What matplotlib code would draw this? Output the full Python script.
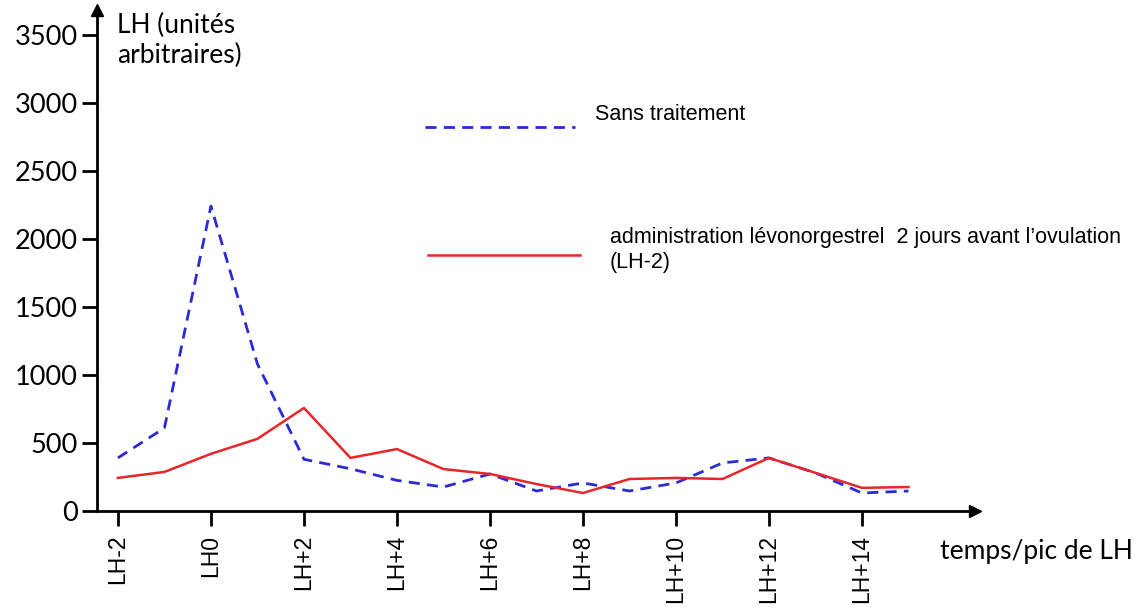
import matplotlib.pyplot as plt
import numpy as np

# jours par rapport au pic de LH
jours = list(range(-2, 16))
sans_traitement = [390, 610, 2240, 1080, 380, 310, 225, 176, 272, 147, 206, 147, 206, 353, 390, 280, 132, 147]
levonorgestrel = [243, 287, 420, 530, 757, 390, 455, 308, 272, 198, 132, 235, 243, 235, 390, 280, 170, 176]
y_ticks = [0, 500, 1000, 1500, 2000, 2500, 3000, 3500]
x_ticks = [-2, 0, 2, 4, 6, 8, 10, 12, 14]
x_labels = ["LH-2", "LH0", "LH+2", "LH+4", "LH+6", "LH+8", "LH+10", "LH+12", "LH+14"]

W, H = 1146, 613
fig = plt.figure(figsize=(W / 100, H / 100), dpi=100)
# axes placed in pixels: left spine x=97, arrow tip x=975, bottom y=511, top y=10
ax = fig.add_axes([97 / W, (H - 511) / H, (975 - 97) / W, (511 - 10) / H])
ax.set_xlim(-2.45, 16.43)
ax.set_ylim(0, 3680)

blue = "#2b2bd6"
red = "#e8262a"
ax.plot(jours, sans_traitement, color=blue, lw=2.0, dashes=(4, 2.6))
ax.plot(jours, levonorgestrel, color=red, lw=1.8)

for s in ["top", "right"]:
    ax.spines[s].set_visible(False)
for s in ["left", "bottom"]:
    ax.spines[s].set_linewidth(2)
    ax.spines[s].set_color("black")

# arrows at the end of each axis
ax.plot(1, 0, ">", color="black", ms=9, transform=ax.transAxes, clip_on=False)
ax.plot(0, 1, "^", color="black", ms=9, transform=ax.transAxes, clip_on=False)

ax.set_yticks(y_ticks)
ax.set_yticklabels([str(v) for v in y_ticks], fontfamily="Lato", fontsize=19.5)
ax.set_xticks(x_ticks)
ax.set_xticklabels(x_labels, rotation=90, fontfamily="Liberation Sans", fontsize=16.5)
ax.tick_params(axis="both", length=11, width=2, direction="out", pad=3)
ax.tick_params(axis="x", pad=6)

ax.text(0.023, 0.995, "LH (unités\narbitraires)", transform=ax.transAxes,
        fontfamily="Lato", fontsize=19, va="top", ha="left", linespacing=1.25)
fig.text(940 / W, 1 - 551 / H, "temps/pic de LH", fontfamily="Lato", fontsize=19,
         va="center", ha="left")

# legend drawn by hand
fig.add_artist(plt.Line2D([425 / W, 575 / W], [1 - 127 / H] * 2, color=blue, lw=2.0,
                          dashes=(4, 2.6)))
fig.text(595 / W, 1 - 115 / H, "Sans traitement", fontfamily="Liberation Sans",
         fontsize=15.5, va="center", ha="left")
fig.add_artist(plt.Line2D([428 / W, 580 / W], [1 - 255 / H] * 2, color=red, lw=1.8))
fig.text(610 / W, 1 - 250 / H, "administration lévonorgestrel  2 jours avant l\u2019ovulation\n(LH-2)",
         fontfamily="Liberation Sans", fontsize=15.5, va="center", ha="left",
         linespacing=1.3)

fig.savefig("out.png", dpi=100)
